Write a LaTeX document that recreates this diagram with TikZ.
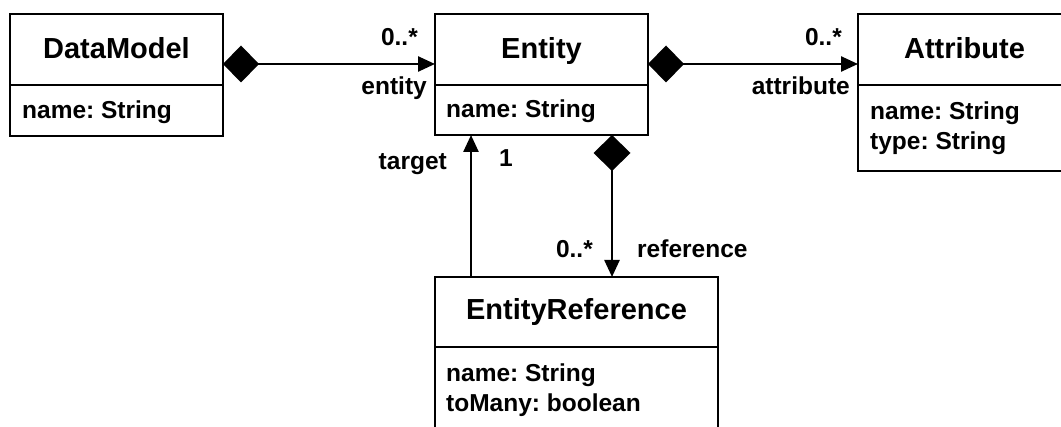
\documentclass[tikz,border=0pt]{standalone}
\usepackage{fontspec}
\setmainfont{Liberation Sans}
\usetikzlibrary{arrows.meta}
\frenchspacing
\begin{document}
\begin{tikzpicture}[x=1pt,y=-1pt,
  box/.style={draw, line width=2.5pt, anchor=north west, inner sep=0pt, outer sep=0pt},
  classtitle/.style={font=\fontsize{29}{34}\bfseries\selectfont, anchor=base, inner sep=0pt},
  attr/.style={font=\fontsize{24.5}{30}\bfseries\selectfont, anchor=base west, inner sep=0pt},
  lbl/.style={font=\fontsize{24.5}{30}\bfseries\selectfont, inner sep=0pt},
  conn/.style={line width=2.5pt},
  arrowtip/.style={-{Triangle[length=17pt,width=15pt]}},
  comp/.style={conn, {Diamond[length=36pt,width=37pt]}-{Triangle[length=17pt,width=15pt]}}
]
\useasboundingbox (0,0) rectangle (1061,427);
\clip (0,0) rectangle (1061,427);

% DataModel
\node[box, minimum width=213pt, minimum height=122pt] (dm) at (10,14) {};
\draw[line width=2.5pt] ([yshift=-71pt]dm.north west) -- ([yshift=-71pt]dm.north east);
\node[classtitle] (dmt) at (116.5,58.5) {DataModel};
\node[attr] (dma) at (22,119) {name: String};

% Entity
\node[box, minimum width=213pt, minimum height=121pt] (ent) at (435,14) {};
\draw[line width=2.5pt] ([yshift=-71pt]ent.north west) -- ([yshift=-71pt]ent.north east);
\node[classtitle] (entt) at (541.5,58.5) {Entity};
\node[attr] (enta) at (446,118) {name: String};

% Attribute
\node[box, minimum width=213pt, minimum height=157pt] (att) at (858,14) {};
\draw[line width=2.5pt] ([yshift=-71pt]att.north west) -- ([yshift=-71pt]att.north east);
\node[classtitle] (attt) at (964.5,58.5) {Attribute};
\node[attr] (atta) at (870,120) {name: String};
\node[attr] (attb) at (870,150) {type: String};

% EntityReference
\node[box, minimum width=283pt, minimum height=170pt] (er) at (435,277) {};
\draw[line width=2.5pt] ([yshift=-70pt]er.north west) -- ([yshift=-70pt]er.north east);
\node[classtitle] (ert) at (576.5,320) {EntityReference};
\node[attr] (era) at (446,382) {name: String};
\node[attr] (erb) at (446,412) {toMany: boolean};

% connectors
\draw[comp] ([yshift=-50pt]dm.north east) -- ([yshift=-50pt]ent.north west);
\draw[comp] ([yshift=-50pt]ent.north east) -- ([yshift=-50pt]att.north west);
\draw[comp] ([xshift=177pt]ent.south west) -- ([xshift=177pt]er.north west);
\draw[conn, arrowtip] ([xshift=36pt]er.north west) -- ([xshift=36pt]ent.south west);

% labels
\node[lbl, anchor=base east] (l1) at (418,46) {0..*};
\node[lbl, anchor=base east] (l2) at (427,95) {entity};
\node[lbl, anchor=base east] (l3) at (842,46) {0..*};
\node[lbl, anchor=base east] (l4) at (850,95) {attribute};
\node[lbl, anchor=base east] (l5) at (447,170) {target};
\node[lbl, anchor=base west] (l6) at (499,167) {1};
\node[lbl, anchor=base east] (l7) at (593,258) {0..*};
\node[lbl, anchor=base west] (l8) at (637,258) {reference};
\end{tikzpicture}
\end{document}
